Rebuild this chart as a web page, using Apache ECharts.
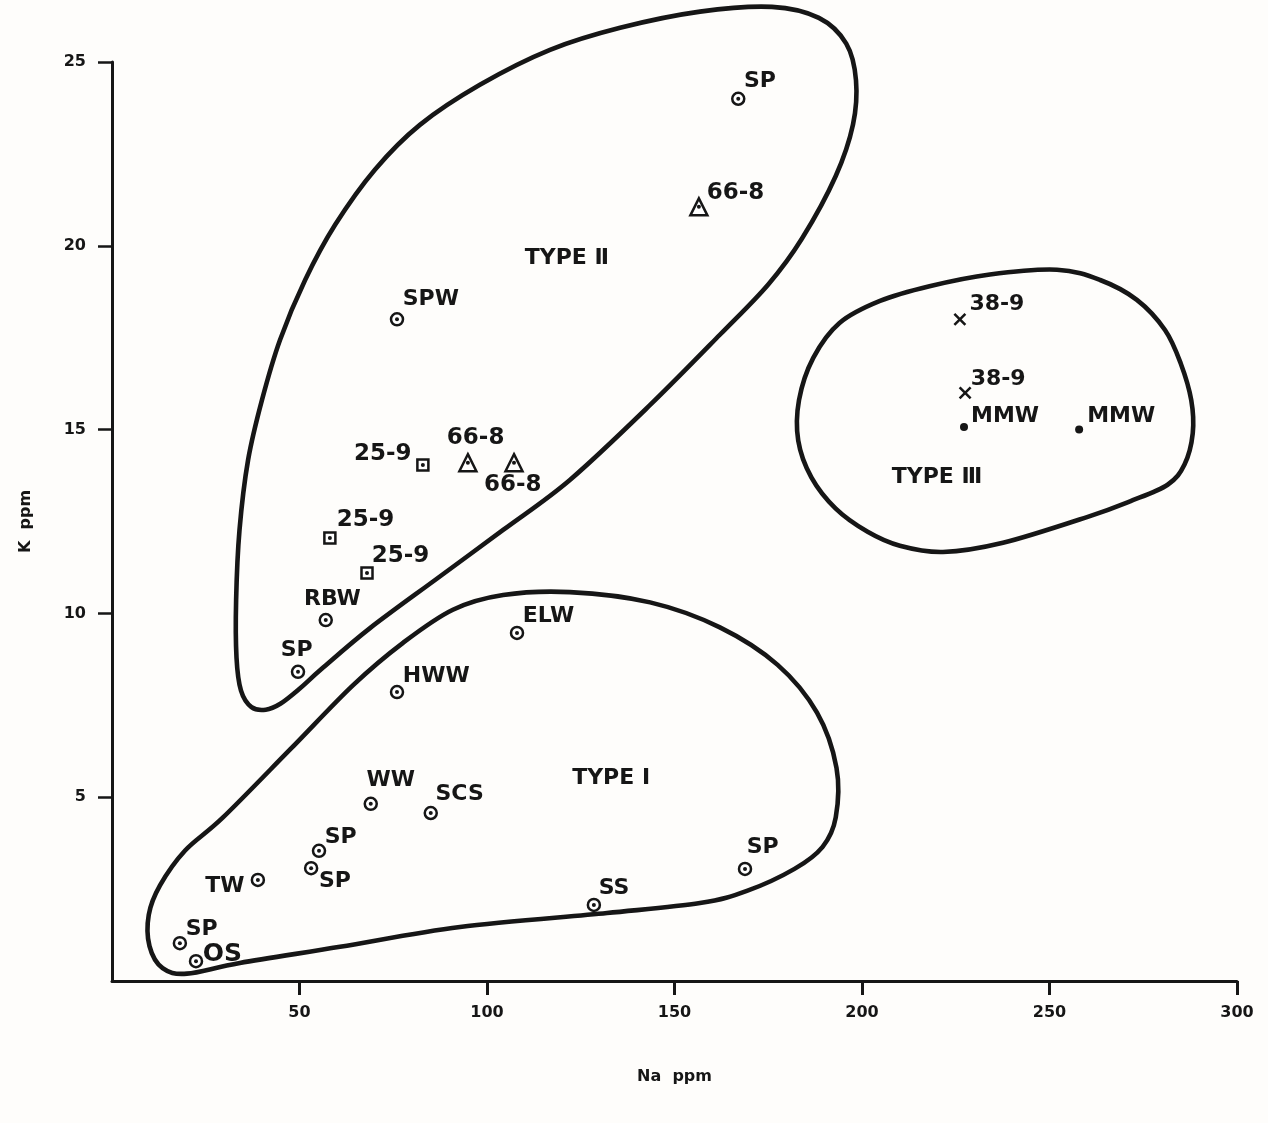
<!DOCTYPE html>
<html>
<head>
<meta charset="utf-8">
<script src="https://cdn.jsdelivr.net/npm/echarts@6/dist/echarts.min.js"></script>
<style>
html,body{margin:0;padding:0;background:#fefdfb;}
#chart{width:1268px;height:1123px;}
</style>
</head>
<body>
<div id="chart"></div>
<script>
// ---- data (Na ppm, K ppm) ----
const xTicks = [50, 100, 150, 200, 250, 300];
const yTicks = [5, 10, 15, 20, 25];

const circleNames = ['SP','SPW','RBW','SP','ELW','HWW','WW','SCS','SP','SP','TW','SP','OS','SS','SP'];
const circleNa    = [167, 76, 57, 49.6, 108, 76, 69, 85, 55.2, 53.1, 38.9, 18.1, 22.4, 128.5, 168.8];
const circleK     = [24.0, 18.0, 9.82, 8.41, 9.47, 7.86, 4.82, 4.57, 3.54, 3.07, 2.75, 1.03, 0.54, 2.07, 3.05];

const squareNames = ['25-9','25-9','25-9'];
const squareNa    = [82.9, 58.1, 68.0];
const squareK     = [14.04, 12.05, 11.1];

const triangleNames = ['66-8','66-8','66-8'];
const triangleNa    = [156.5, 94.9, 107.2];
const triangleK     = [21.06, 14.1, 14.1];

const crossNames = ['38-9','38-9'];
const crossNa    = [226.1, 227.5];
const crossK     = [18.0, 16.0];

const dotNames = ['MMW','MMW'];
const dotNa    = [227.2, 257.9];
const dotK     = [15.07, 15.0];

const typeNames = ['TYPE \u2161', 'TYPE \u2160', 'TYPE \u2162'];
const typeNa    = [121.3, 133.1, 220.0];
const typeK     = [19.67, 5.52, 13.69];

// enclosing contours, vertices as [Na, K] (closed loops)
const contourTypeII = [
  [104.3,12.27],[122.1,13.63],[143.5,15.67],[162.1,17.58],[175.0,18.95],[184.0,20.2],
  [193.0,21.9],[197.6,23.3],[198.4,24.5],[195.8,25.5],[188.5,26.2],[176.0,26.5],
  [156.8,26.37],[135.5,25.93],[116.8,25.33],[98.1,24.38],[82.1,23.29],[70.1,22.07],
  [59.5,20.57],[51.5,19.07],[44.8,17.44],[40.0,15.81],[36.3,14.18],[34.0,12.27],[33.1,10.37],
  [33.2,8.8],[34.4,7.9],[37.2,7.45],[41.0,7.38],[45.0,7.55],[50.0,7.95],[56.0,8.5],
  [68.8,9.6],[86.7,10.95]
];
const contourTypeI = [
  [122.1,10.58],[143.5,10.3],[162.1,9.62],[177.5,8.6],[188.0,7.3],[193.2,5.8],
  [193.0,4.45],[189.5,3.65],[182.0,3.05],[169.3,2.45],[156.8,2.12],[132.0,1.85],
  [92.8,1.47],[60.8,0.93],[34.1,0.49],[20.0,0.2],[13.5,0.35],[10.0,0.95],[9.8,1.80],
  [12.8,2.6],[19.5,3.55],[29.6,4.45],[47.5,6.3],[64.3,8.05],[77.6,9.2],[90.9,10.1],
  [104.3,10.5]
];
const contourTypeIII = [
  [234.1,19.22],[252.0,19.35],[263.5,19.07],[273.3,18.53],[280.8,17.71],[285.0,16.8],
  [287.8,15.8],[288.2,14.9],[286.0,14.05],[281.5,13.5],[271.5,13.05],[260.0,12.62],
  [237.6,11.92],[221.6,11.67],[210.1,11.84],[201.5,12.22],[193.0,12.85],[186.5,13.7],
  [183.0,14.7],[183.2,15.8],[187.0,16.95],[194.0,17.9],[204.8,18.5],[218.0,18.9]
];

// ---- rendering ----
const INK = '#161616';
const FONT = '"DejaVu Sans", sans-serif';

// label placement (pixel offset of label anchor from marker centre, alignment)
const circleLayout = [
  [7,-16,'left'],[7,-19,'left'],[8,-19,'center'],[0,-20,'center'],[7,-15,'left'],
  [7,-15,'left'],[-3,-22,'left'],[6,-17,'left'],[7,-12,'left'],[9,14,'left'],
  [-12,8,'right'],[7,-13,'left'],[8,-5,'left'],[6,-15,'left'],[3,-20,'left']
];
const squareLayout = [[-10,-10,'right'],[8,-17,'left'],[6,-16,'left']];
const triangleLayout = [[9,-13,'left'],[9,-23,'center'],[0,24,'center']];
const crossLayout = [[12,-13,'left'],[8,-11,'left']];
const dotLayout = [[7,-11,'left'],[8,-13,'left']];

function build(names, xs, ys, layout, symSize, fontSize) {
  return names.map((n, i) => ({
    name: n,
    value: [xs[i], ys[i]],
    label: {
      position: [symSize / 2 + layout[i][0], symSize / 2 + layout[i][1]],
      align: layout[i][2],
      fontSize: (n === 'OS') ? 25 : fontSize
    }
  }));
}
function plain(xs, ys) { return xs.map((x, i) => [x, ys[i]]); }

const labelBase = {
  show: true, formatter: '{b}', color: INK, textBorderWidth: 0,
  fontFamily: FONT, fontWeight: 'bold', fontSize: 22, verticalAlign: 'middle'
};

function markerSeries(data, symbol, size, itemStyle) {
  return {
    type: 'scatter', data: data, symbol: symbol, symbolSize: size, z: 5,
    itemStyle: Object.assign({ color: '#ffffff', borderColor: INK, borderWidth: 2.5, opacity: 1 }, itemStyle || {}),
    label: labelBase, silent: true
  };
}
function centreDots(xs, ys) {
  return { type: 'scatter', data: plain(xs, ys), symbol: 'circle', symbolSize: 4, z: 6,
    itemStyle: { color: INK, opacity: 1 }, silent: true };
}
// closed smooth outline through the vertices, placed via the axes' scales
function contour(pts) {
  return {
    type: 'custom', data: pts, encode: { x: 0, y: 1 }, clip: false, silent: true, z: 3,
    renderItem: function (params, api) {
      if (params.dataIndex !== 0) return null;
      const P = pts.map(p => api.coord(p));
      const n = P.length;
      let d = 'M' + P[0][0] + ',' + P[0][1];
      for (let i = 0; i < n; i++) {
        const p0 = P[(i - 1 + n) % n], p1 = P[i], p2 = P[(i + 1) % n], p3 = P[(i + 2) % n];
        const c1x = p1[0] + (p2[0] - p0[0]) / 6, c1y = p1[1] + (p2[1] - p0[1]) / 6;
        const c2x = p2[0] - (p3[0] - p1[0]) / 6, c2y = p2[1] - (p3[1] - p1[1]) / 6;
        d += ' C' + c1x + ',' + c1y + ' ' + c2x + ',' + c2y + ' ' + p2[0] + ',' + p2[1];
      }
      d += ' Z';
      return {
        type: 'path', shape: { pathData: d },
        style: { fill: 'none', stroke: INK, lineWidth: 4.6, lineJoin: 'round' }
      };
    }
  };
}

const chart = echarts.init(document.getElementById('chart'), null, { renderer: 'canvas' });
chart.setOption({
  backgroundColor: '#fefdfb',
  animation: false,
  grid: { left: 112, right: 31, top: 62, bottom: 142 },
  xAxis: {
    type: 'value', min: 0, max: 300, interval: 50,
    name: 'Na  ppm', nameLocation: 'middle', nameGap: 88,
    nameTextStyle: { fontFamily: FONT, fontWeight: 'bold', fontSize: 16, color: INK },
    axisLine: { show: true, onZero: false, lineStyle: { color: INK, width: 3 } },
    axisTick: { show: true, inside: false, length: 14, customValues: xTicks, lineStyle: { color: INK, width: 3 } },
    axisLabel: { margin: 24, customValues: xTicks, fontFamily: FONT, fontWeight: 'bold', fontSize: 16, color: INK },
    splitLine: { show: false }
  },
  yAxis: {
    type: 'value', min: 0, max: 25, interval: 5,
    name: 'K  ppm', nameLocation: 'middle', nameGap: 78, nameRotate: 90,
    nameTextStyle: { fontFamily: FONT, fontWeight: 'bold', fontSize: 16, color: INK },
    axisLine: { show: true, onZero: false, lineStyle: { color: INK, width: 3 } },
    axisTick: { show: true, inside: false, length: 14, customValues: yTicks, lineStyle: { color: INK, width: 2.5 } },
    axisLabel: { margin: 26, customValues: yTicks, fontFamily: FONT, fontWeight: 'bold', fontSize: 16, color: INK },
    splitLine: { show: false }
  },
  series: [
    contour(contourTypeII),
    contour(contourTypeI),
    contour(contourTypeIII),
    markerSeries(build(circleNames, circleNa, circleK, circleLayout, 12, 22), 'circle', 12),
    centreDots(circleNa, circleK),
    markerSeries(build(squareNames, squareNa, squareK, squareLayout, 11, 23), 'rect', 11),
    centreDots(squareNa, squareK),
    markerSeries(build(triangleNames, triangleNa, triangleK, triangleLayout, 17, 23), 'triangle', 17),
    centreDots(triangleNa, triangleK),
    markerSeries(build(crossNames, crossNa, crossK, crossLayout, 11, 22),
      'path://M0,0 L10,10 M10,0 L0,10', 11,
      { color: 'none', borderColor: INK, borderWidth: 2.5 }),
    markerSeries(build(dotNames, dotNa, dotK, dotLayout, 8, 22), 'circle', 8,
      { color: INK, borderWidth: 0 }),
    { type: 'scatter', symbol: 'circle', symbolSize: 1, z: 5, silent: true,
      itemStyle: { color: 'rgba(0,0,0,0)', opacity: 1 },
      data: typeNames.map((n, i) => ({ name: n, value: [typeNa[i], typeK[i]] })),
      label: Object.assign({}, labelBase, { position: 'inside', align: 'center', fontSize: 22 }) }
  ]
});
</script>
</body>
</html>
